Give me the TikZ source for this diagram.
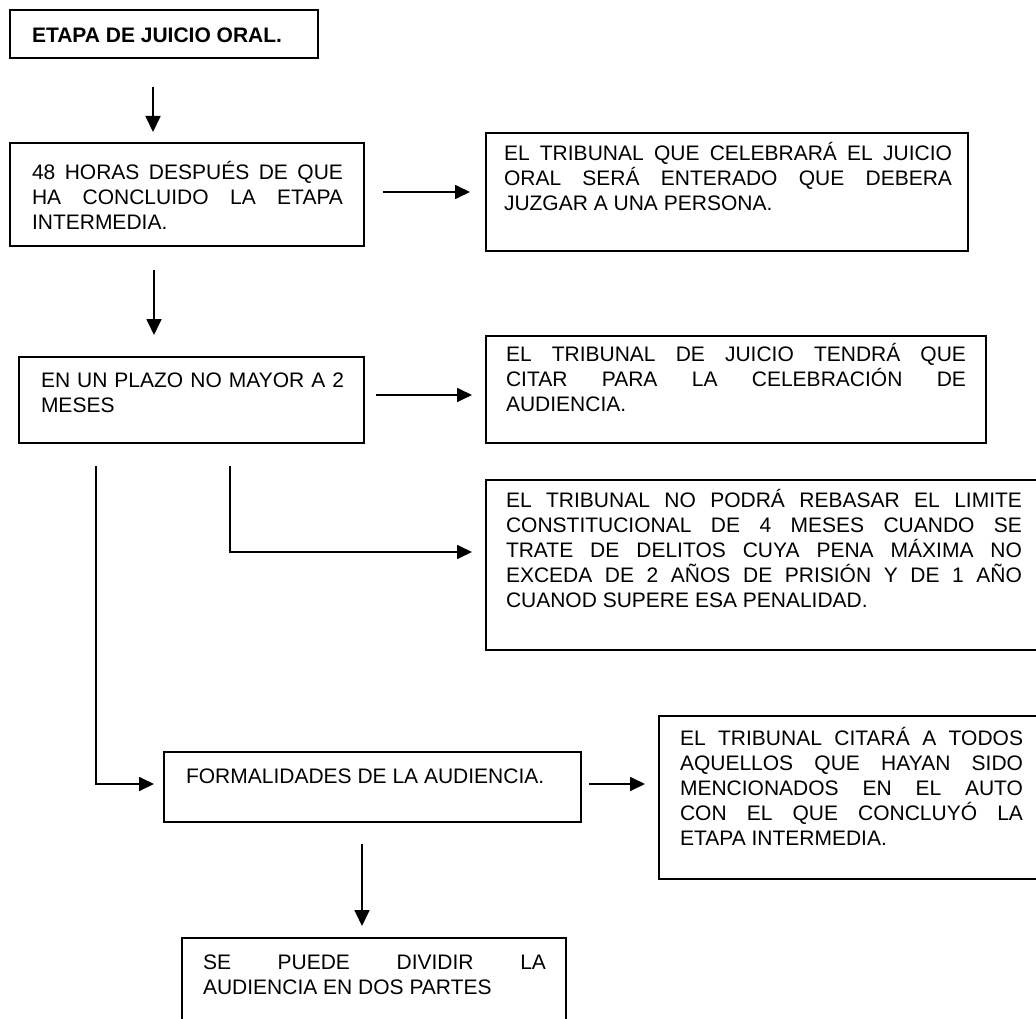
\documentclass[tikz,border=0pt]{standalone}
\usepackage{fontspec}
\setmainfont{Liberation Sans}
\usetikzlibrary{arrows.meta}
\tolerance=10000 \hbadness=10000 \hyphenpenalty=10000 \exhyphenpenalty=10000
\begin{document}
\begin{tikzpicture}[x=1pt,y=-1pt,
  box/.style={draw=black, line width=1.8pt, inner sep=0pt, outer sep=0pt, anchor=north west, rectangle},
  txt/.style={inner sep=0pt, outer sep=0pt, anchor=base west, font=\fontsize{21}{25}\selectfont},
  arr/.style={line width=1.8pt, -{Triangle[length=16pt,width=15pt]}},
  harr/.style={line width=1.8pt, -{Triangle[length=15pt,width=14pt]}},
]
\path[fill=white, use as bounding box] (0,0) rectangle (1036,1019);
\clip (0,0) rectangle (1036,1019);
% boxes
\node[box, minimum width=308pt, minimum height=48pt] (b1) at (10,10) {};
\node[box, minimum width=354pt, minimum height=103pt] (b2) at (10,143) {};
\node[box, minimum width=482pt, minimum height=118pt] (b3) at (486,133) {};
\node[box, minimum width=345pt, minimum height=86pt] (b4) at (19,357) {};
\node[box, minimum width=500pt, minimum height=107pt] (b5) at (486,336) {};
\node[box, minimum width=570pt, minimum height=170pt] (b6) at (486,480) {};
\node[box, minimum width=417pt, minimum height=70pt] (b7) at (164,752) {};
\node[box, minimum width=384pt, minimum height=100pt] (b8) at (182,938) {};
\node[box, minimum width=400pt, minimum height=163pt] (b9) at (659,716) {};
% texts
\node[txt, font=\fontsize{21}{25}\selectfont\bfseries] (t1) at (32,42.5) {ETAPA DE JUICIO ORAL.};
\node[txt] (t2) at (32,180) {\parbox[t]{311pt}{48 HORAS DESPUÉS DE QUE\linebreak HA CONCLUIDO LA ETAPA\linebreak INTERMEDIA.}};
\node[txt] (t3) at (504,160.5) {\parbox[t]{448pt}{EL TRIBUNAL QUE CELEBRARÁ EL JUICIO\linebreak ORAL SERÁ ENTERADO QUE DEBERA\linebreak JUZGAR A UNA PERSONA.}};
\node[txt] (t4) at (41,387.5) {\parbox[t]{303pt}{EN UN PLAZO NO MAYOR A 2\linebreak MESES}};
\node[txt] (t5) at (506,361.5) {\parbox[t]{460pt}{EL TRIBUNAL DE JUICIO TENDRÁ QUE\linebreak CITAR PARA LA CELEBRACIÓN DE\linebreak AUDIENCIA.}};
\node[txt] (t6) at (506,507.5) {\parbox[t]{516pt}{EL TRIBUNAL NO PODRÁ REBASAR EL LIMITE\linebreak CONSTITUCIONAL DE 4 MESES CUANDO SE\linebreak TRATE DE DELITOS CUYA PENA MÁXIMA NO\linebreak EXCEDA DE 2 AÑOS DE PRISIÓN Y DE 1 AÑO\linebreak CUANOD SUPERE ESA PENALIDAD.}};
\node[txt] (t7) at (186,783) {FORMALIDADES DE LA AUDIENCIA.};
\node[txt] (t8) at (203,969.5) {\parbox[t]{343pt}{SE PUEDE DIVIDIR LA\linebreak AUDIENCIA EN DOS PARTES}};
\node[txt] (t9) at (680,745.5) {\parbox[t]{343pt}{EL TRIBUNAL CITARÁ A TODOS\linebreak AQUELLOS QUE HAYAN SIDO\linebreak MENCIONADOS EN EL AUTO\linebreak CON EL QUE CONCLUYÓ LA\linebreak ETAPA INTERMEDIA.}};
% connector guides
\coordinate (x1) at (153,0);
\coordinate (y2) at (0,192);
\coordinate (x3) at (154,0);
\coordinate (y4) at (0,395);
\coordinate (x5) at (230,0);
\coordinate (y5) at (0,552);
\coordinate (x6) at (96,0);
\coordinate (y6) at (0,784);
\coordinate (x7) at (362,0);
% connectors
\draw[arr, shorten <=29pt, shorten >=11pt] (b1.south -| x1) -- (b2.north -| x1);
\draw[harr, shorten <=19pt, shorten >=16pt] (b2.east |- y2) -- (b3.west |- y2);
\draw[arr, shorten <=24pt, shorten >=22pt] (b2.south -| x3) -- (b4.north -| x3);
\draw[harr, shorten <=12pt, shorten >=14pt] (b4.east |- y4) -- (b5.west |- y4);
\draw[harr, shorten <=23pt, shorten >=14pt] (b4.south -| x5) -- (x5 |- y5) -- (b6.west |- y5);
\draw[harr, shorten <=23pt, shorten >=10pt] (b4.south -| x6) -- (x6 |- y6) -- (b7.west |- y6);
\draw[harr, shorten <=8pt, shorten >=14pt] (b7.east |- y6) -- (b9.west |- y6);
\draw[arr, shorten <=22pt, shorten >=12pt] (b7.south -| x7) -- (b8.north -| x7);
\end{tikzpicture}
\end{document}
